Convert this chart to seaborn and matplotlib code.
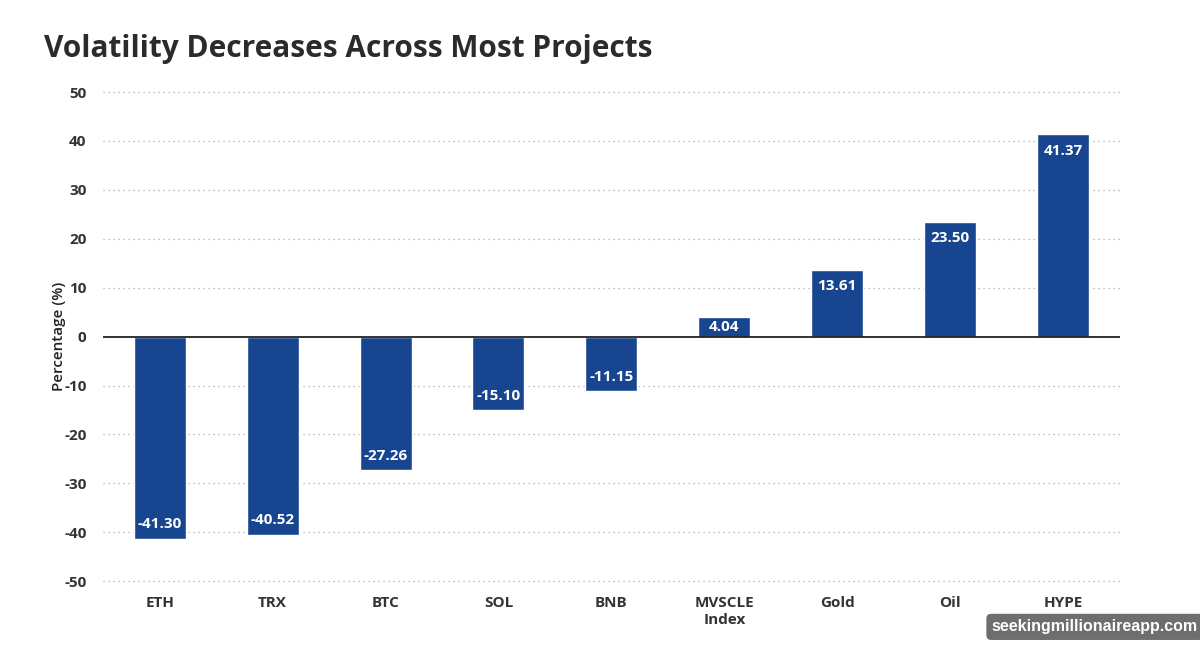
import matplotlib
matplotlib.use("Agg")
import matplotlib.pyplot as plt
import seaborn as sns
import pandas as pd

categories = ["ETH", "TRX", "BTC", "SOL", "BNB", "MVSCLE\nIndex", "Gold", "Oil", "HYPE"]
values = [-41.30, -40.52, -27.26, -15.10, -11.15, 4.04, 13.61, 23.50, 41.37]
yticks = [-50, -40, -30, -20, -10, 0, 10, 20, 30, 40, 50]

sns.set_style("white")
plt.rcParams['font.family'] = ['Open Sans', 'DejaVu Sans']

df = pd.DataFrame({"cat": categories, "val": values})
bar_color = "#17458f"

fig = plt.figure(figsize=(12, 6.53), dpi=100)
ax = fig.add_axes([0.086, 0.110, 0.847, 0.749])

sns.barplot(data=df, x="cat", y="val", color=bar_color, width=0.46,
            saturation=1, ax=ax, zorder=3)

ax.set_ylim(-50, 50)
ax.set_yticks(yticks)
ax.set_yticklabels([str(t) for t in yticks])
for t in yticks:
    if t != 0:
        ax.axhline(t, color="#aaaaaa", linestyle=(0, (1, 3)), linewidth=0.9, zorder=1, clip_on=False)
ax.axhline(0, color="#222222", linewidth=1.3, zorder=4)

for s in ax.spines.values():
    s.set_visible(False)
ax.tick_params(axis="both", length=0, labelsize=11, colors="#333333")
for lbl in ax.get_xticklabels() + ax.get_yticklabels():
    lbl.set_fontweight("bold")
ax.tick_params(axis="y", pad=12)
ax.tick_params(axis="x", pad=11)
ax.set_xlabel("")
ax.set_ylabel("Percentage (%)", fontsize=11, fontweight="semibold", color="#222222")
ax.yaxis.set_label_coords(-0.037, 0.5)

for patch, v in zip(ax.patches, values):
    x = patch.get_x() + patch.get_width() / 2
    if abs(v) < 6:
        ax.text(x, v / 2, f"{v:.2f}", ha="center", va="center", color="white",
                fontsize=11, fontweight="bold", zorder=5)
    elif v >= 0:
        ax.text(x, v - 1.9, f"{v:.2f}", ha="center", va="top", color="white",
                fontsize=11, fontweight="bold", zorder=5)
    else:
        ax.text(x, v + 1.5, f"{v:.2f}", ha="center", va="bottom", color="white",
                fontsize=11, fontweight="bold", zorder=5)

fig.text(0.037, 0.925, "Volatility Decreases Across Most Projects", fontsize=21.5,
         fontweight="bold", color="#2b2b2b", ha="left", va="center")

fig.text(0.9125, 0.040, "seekingmillionaireapp.com", fontsize=11.5, fontweight="bold",
         color="white", ha="center", va="center", family=["Liberation Sans", "DejaVu Sans"],
         bbox=dict(boxstyle="round,pad=0.35,rounding_size=0.3", facecolor="#6e6e6e", edgecolor="none"))

fig.savefig("out.png", dpi=100, facecolor="white")
